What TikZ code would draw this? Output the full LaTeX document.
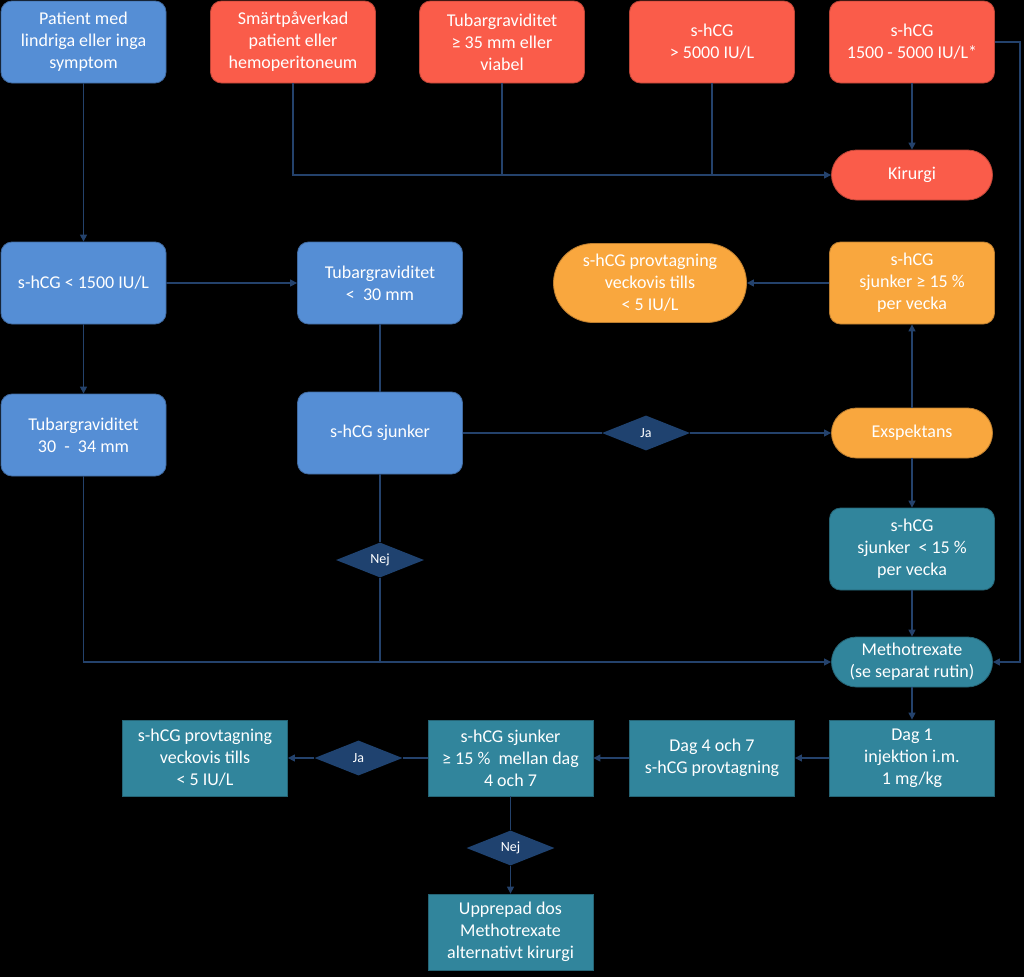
\documentclass[tikz,border=0pt]{standalone}
\usepackage{fontspec}
\setmainfont{Carlito}
\usetikzlibrary{shapes.geometric,shapes.misc,arrows.meta}

\definecolor{boxblue}{HTML}{558ED5}
\definecolor{boxred}{HTML}{FA5C4A}
\definecolor{boxorange}{HTML}{F9A73E}
\definecolor{boxteal}{HTML}{31859C}
\definecolor{decnavy}{HTML}{1F426F}
\definecolor{linkblue}{HTML}{24426C}

\tikzset{
  box/.style={rectangle, rounded corners=11pt, minimum width=165pt, minimum height=82pt,
    align=center, text=white, font=\fontsize{18}{22}\selectfont, inner sep=2pt, line width=0.8pt},
  bluebox/.style={box, fill=boxblue, draw=boxblue!75!black},
  redbox/.style={box, fill=boxred, draw=boxred!75!black},
  orangebox/.style={box, fill=boxorange, draw=boxorange!75!black},
  tealbox/.style={box, fill=boxteal, draw=boxteal!75!black},
  tealrect/.style={tealbox, rounded corners=0pt, minimum height=76pt},
  pill/.style={rounded rectangle, minimum width=165pt, minimum height=50pt,
    align=center, text=white, font=\fontsize{18}{22}\selectfont, inner sep=2pt, line width=0.8pt},
  choice/.style={diamond, fill=decnavy, text=white, font=\fontsize{14}{16}\selectfont,
    minimum width=88pt, minimum height=35pt, inner sep=0pt},
  link/.style={draw=linkblue, line width=1.3pt},
  arr/.style={link, -{Triangle[width=7pt,length=7pt]}}
}

\begin{document}
\begin{tikzpicture}[x=1pt,y=-1pt]
\fill[black] (0,0) rectangle (1024,977);
\useasboundingbox (0,0) rectangle (1024,977);

% top row
\node[bluebox] (sympt) at (83.5,42) {Patient med\\lindriga eller inga\\symptom};
\node[redbox] (smart) at (293,42) {Smärtpåverkad\\patient eller\\hemoperitoneum};
\node[redbox] (tub35) at (502,42) {Tubargraviditet\\≥ 35 mm eller\\viabel};
\node[redbox] (hcg5000) at (712,42) {s-hCG\\> 5000 IU/L};
\node[redbox] (hcgmid) at (912,42) {s-hCG\\1500 - 5000 IU/L*};
\node[pill, fill=boxred, draw=boxred!75!black] (kir) at (912,175) {Kirurgi};

% second row
\node[bluebox] (hcglow) at (83.5,283) {s-hCG < 1500 IU/L};
\node[bluebox] (tub30) at (380,283) {Tubargraviditet\\<~ 30 mm};
\node[pill, fill=boxorange, draw=boxorange!75!black, minimum width=197pt, minimum height=79pt] (weekly) at (650,283) {s-hCG provtagning\\veckovis tills\\< 5 IU/L};
\node[orangebox] (drop15) at (912,283) {s-hCG\\sjunker ≥ 15 \%\\per vecka};

% third row
\node[bluebox] (tub34) at (83.5,435) {Tubargraviditet\\30~ - ~34 mm};
\node[bluebox] (sjunk) at (380,433) {s-hCG sjunker};
\node[choice] (ja1) at (646,433) {Ja};
\node[pill, fill=boxorange, draw=boxorange!75!black] (exsp) at (912,433) {Exspektans};
\node[choice] (nej1) at (380,560) {Nej};

% teal part
\node[tealbox] (slow) at (912,549) {s-hCG\\sjunker~ < 15 \%\\per vecka};
\node[pill, fill=boxteal, draw=boxteal!75!black] (mtx) at (912,662) {Methotrexate\\(se separat rutin)};
\node[tealrect] (dag1) at (912,758) {Dag 1\\injektion i.m.\\1 mg/kg};
\node[tealrect] (dag47) at (712,758) {Dag 4 och 7\\s-hCG provtagning};
\node[tealrect] (mellan) at (510.5,758) {s-hCG sjunker\\≥ 15 \%~ mellan dag\\4 och 7};
\node[choice] (ja2) at (358.5,758) {Ja};
\node[tealrect] (weekly2) at (205,758) {s-hCG provtagning\\veckovis tills\\< 5 IU/L};
\node[choice] (nej2) at (510.5,848) {Nej};
\node[tealrect] (repeat) at (510.5,932) {Upprepad dos\\Methotrexate\\alternativt kirurgi};

% connectors
\draw[arr] (smart.south) |- (kir.west);
\draw[link] (tub35.south) -- (tub35.south |- kir.west);
\draw[link] (hcg5000.south) -- (hcg5000.south |- kir.west);
\draw[arr] (hcgmid.south) -- (kir.north);
\coordinate (rside) at (1020,42);
\draw[arr] (hcgmid.east) -- (rside) |- (mtx.east);

\draw[arr] (sympt.south) -- (hcglow.north);
\draw[arr] (hcglow.east) -- (tub30.west);
\draw[arr] (hcglow.south) -- (tub34.north);
\draw[link] (tub30.south) -- (sjunk.north);
\draw[link] (sjunk.east) -- (ja1.west);
\draw[arr] (ja1.east) -- (exsp.west);
\draw[arr] (exsp.north) -- (drop15.south);
\draw[arr] (drop15.west) -- (weekly.east);
\draw[arr] (exsp.south) -- (slow.north);
\draw[link] (sjunk.south) -- (nej1.north);
\draw[link] (nej1.south) -- (nej1.south |- mtx.west);
\draw[arr] (tub34.south) |- (mtx.west);

\draw[arr] (slow.south) -- (mtx.north);
\draw[arr] (mtx.south) -- (dag1.north);
\draw[arr] (dag1.west) -- (dag47.east);
\draw[arr] (dag47.west) -- (mellan.east);
\draw[link] (mellan.west) -- (ja2.east);
\draw[arr] (ja2.west) -- (weekly2.east);
\draw[link] (mellan.south) -- (nej2.north);
\draw[arr] (nej2.south) -- (repeat.north);
\end{tikzpicture}
\end{document}
